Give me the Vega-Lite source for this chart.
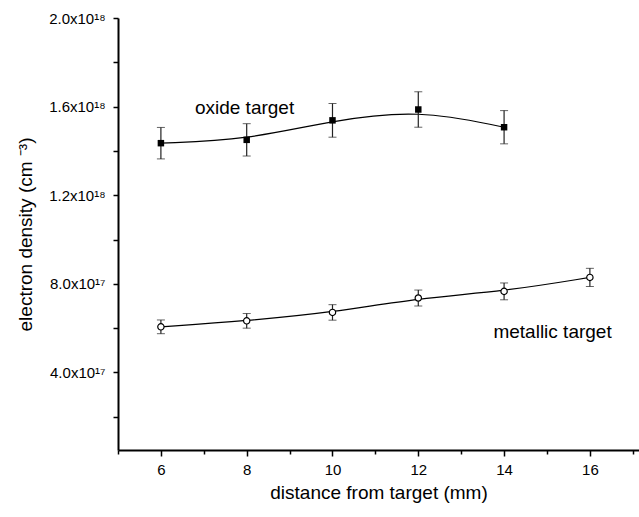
{
  "$schema": "https://vega.github.io/schema/vega-lite/v6.json",
  "width": 521,
  "height": 432,
  "autosize": {"type": "none"},
  "padding": {"left": 118, "top": 18, "right": 0, "bottom": 67},
  "config": {
    "view": {"stroke": null},
    "font": "Liberation Sans",
    "axis": {
      "grid": false,
      "domainColor": "black",
      "domainWidth": 2,
      "tickColor": "black",
      "tickWidth": 1.5,
      "labelColor": "black",
      "labelFontSize": 15,
      "labelFont": "Liberation Sans",
      "titleColor": "black",
      "titleFont": "Liberation Sans",
      "titleFontSize": 19,
      "titleFontWeight": "normal"
    }
  },
  "datasets": {
    "pts": [
      {"series": "oxide", "x": 6, "y": 1.435e18, "err": 7.1e16},
      {"series": "oxide", "x": 8, "y": 1.45e18, "err": 7.3e16},
      {"series": "oxide", "x": 10, "y": 1.538e18, "err": 7.6e16},
      {"series": "oxide", "x": 12, "y": 1.587e18, "err": 8.0e16},
      {"series": "oxide", "x": 14, "y": 1.507e18, "err": 7.5e16},
      {"series": "metallic", "x": 6, "y": 6.06e17, "err": 3.1e16},
      {"series": "metallic", "x": 8, "y": 6.33e17, "err": 3.3e16},
      {"series": "metallic", "x": 10, "y": 6.71e17, "err": 3.5e16},
      {"series": "metallic", "x": 12, "y": 7.36e17, "err": 3.6e16},
      {"series": "metallic", "x": 14, "y": 7.66e17, "err": 3.8e16},
      {"series": "metallic", "x": 16, "y": 8.29e17, "err": 4.1e16}
    ],
    "labels": [
      {"label": "oxide target", "x": 7.95, "y": 1.592e18},
      {"label": "metallic target", "x": 15.13, "y": 5.84e17}
    ]
  },
  "layer": [
    {
      "data": {"name": "pts"},
      "mark": {"type": "line", "interpolate": "basis", "color": "black", "strokeWidth": 1.2},
      "encoding": {
        "x": {
          "field": "x", "type": "quantitative",
          "title": "distance from target (mm)",
          "scale": {"domain": [5, 17.145], "nice": false, "zero": false},
          "axis": {
            "orient": "bottom",
            "values": [5, 6, 7, 8, 9, 10, 11, 12, 13, 14, 15, 16, 17],
            "labelExpr": "datum.value % 2 == 0 ? datum.label : ''",
            "tickSize": {"condition": {"test": "datum.value % 2 == 0", "value": 6}, "value": 4},
            "labelPadding": 6,
            "titlePadding": 6,
            "labelFlush": false
          }
        },
        "y": {
          "field": "y", "type": "quantitative",
          "title": "electron density (cm ⁻³)",
          "scale": {"domain": [5e16, 2e18], "nice": false, "zero": false},
          "axis": {
            "values": [2e17, 4e17, 6e17, 8e17, 1e18, 1.2e18, 1.4e18, 1.6e18, 1.8e18, 2e18],
            "labelExpr": "round(datum.value/1e17) % 4 != 0 ? '' : (round(datum.value/1e17) < 10 ? format(round(datum.value/1e17), '.1f') + 'x10¹⁷' : format(round(datum.value/1e17)/10, '.1f') + 'x10¹⁸')",
            "tickSize": 5,
            "labelPadding": 8,
            "titlePadding": 13,
            "labelFlush": false
          }
        },
        "detail": {"field": "series"}
      }
    },
    {
      "data": {"name": "pts"},
      "mark": {"type": "errorbar", "ticks": {"size": 8, "color": "#222", "strokeWidth": 1.2}, "rule": {"color": "#222", "strokeWidth": 1.2}},
      "encoding": {
        "x": {"field": "x", "type": "quantitative", "title": "distance from target (mm)"},
        "y": {"field": "y", "type": "quantitative", "title": "electron density (cm ⁻³)"},
        "yError": {"field": "err"},
        "detail": {"field": "series"}
      }
    },
    {
      "data": {"name": "pts"},
      "transform": [{"filter": "datum.series == 'oxide'"}],
      "mark": {"type": "square", "filled": true, "color": "black", "size": 42, "opacity": 1},
      "encoding": {
        "x": {"field": "x", "type": "quantitative", "title": "distance from target (mm)"},
        "y": {"field": "y", "type": "quantitative", "title": "electron density (cm ⁻³)"}
      }
    },
    {
      "data": {"name": "pts"},
      "transform": [{"filter": "datum.series == 'metallic'"}],
      "mark": {"type": "point", "shape": "circle", "filled": false, "fill": "white", "stroke": "black", "strokeWidth": 1.2, "size": 40, "opacity": 1},
      "encoding": {
        "x": {"field": "x", "type": "quantitative", "title": "distance from target (mm)"},
        "y": {"field": "y", "type": "quantitative", "title": "electron density (cm ⁻³)"}
      }
    },
    {
      "data": {"name": "labels"},
      "mark": {"type": "text", "font": "Liberation Sans", "fontSize": 19, "color": "black", "align": "center", "baseline": "middle"},
      "encoding": {
        "x": {"field": "x", "type": "quantitative", "title": "distance from target (mm)"},
        "y": {"field": "y", "type": "quantitative", "title": "electron density (cm ⁻³)"},
        "text": {"field": "label"}
      }
    },
    {
      "mark": {"type": "rule", "color": "#333", "strokeWidth": 1},
      "encoding": {
        "y": {"datum": 2e18, "type": "quantitative", "title": "electron density (cm ⁻³)"}
      }
    }
  ]
}
